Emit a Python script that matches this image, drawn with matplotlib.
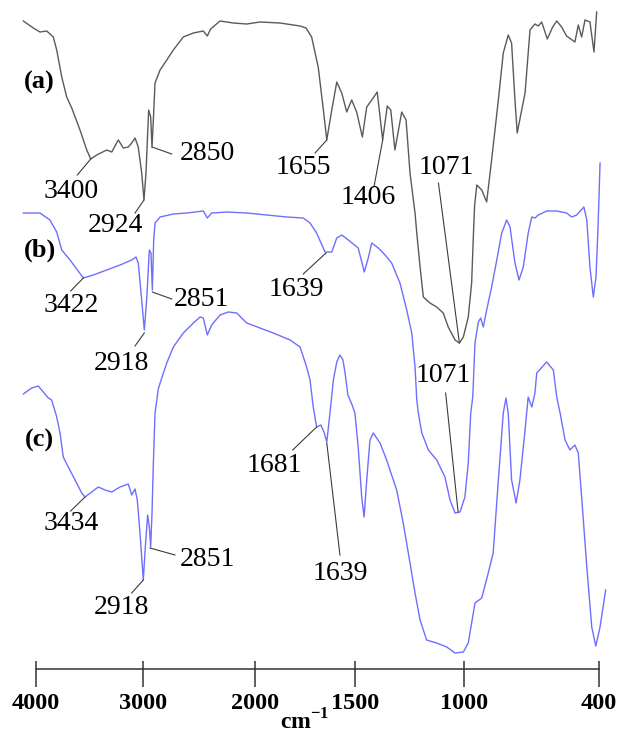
import numpy as np
import matplotlib
matplotlib.use("Agg")
import matplotlib.pyplot as plt

plt.rcParams['font.family'] = ['Liberation Serif', 'DejaVu Serif']
plt.rcParams['mathtext.fontset'] = 'custom'
plt.rcParams['mathtext.rm'] = 'Liberation Serif'
plt.rcParams['mathtext.bf'] = 'Liberation Serif:bold'

# ---------------- data (wavenumber cm-1, transmittance a.u.) ----------------
wn_a = [4118, 4025, 3963, 3900, 3839, 3807, 3760, 3714, 3667, 3590, 3527, 3490, 3434, 3341, 3294,
        3233, 3186, 3140, 3108, 3077, 3047, 3015, 2994, 2976, 2952, 2934, 2922, 2910, 2895, 2850,
        2790, 2731, 2642, 2552, 2463, 2427, 2397, 2313, 2194, 2074, 1975, 1875, 1774, 1744, 1716,
        1683, 1657, 1640, 1615, 1590, 1565, 1540, 1515, 1491, 1465, 1445, 1422, 1397, 1372, 1351,
        1335, 1316, 1285, 1265, 1247, 1224, 1216, 1201, 1186, 1156, 1125, 1095, 1072, 1041, 1021,
        1003, 981, 966, 959, 953, 943, 921, 899, 877, 847, 825, 803, 788, 773, 763,
        743, 728, 706, 684, 669, 654, 629, 605, 587, 565, 543, 506, 491, 476, 461,
        439, 421, 409]
t_a = [648, 641, 637, 638, 632, 619, 592, 572, 561, 539, 519, 510, 514, 519, 517,
       529, 521, 522, 526, 531, 522, 496, 469, 496, 559, 552, 522, 549, 586, 599,
       609, 619, 632, 636, 638, 633, 640, 648, 646, 645, 647, 646, 643, 641, 632,
       602, 559, 529, 559, 587, 576, 557, 569, 557, 532, 562, 569, 577, 529, 563,
       559, 519, 557, 549, 496, 456, 436, 402, 372, 366, 362, 356, 342, 329, 326,
       332, 352, 386, 429, 463, 484, 479, 467, 509, 569, 616, 634, 626, 569, 536,
       559, 576, 639, 645, 643, 647, 630, 642, 648, 642, 633, 627, 644, 632, 649,
       647, 617, 657]

wn_b = [4118, 3963, 3870, 3807, 3760, 3683, 3559, 3466, 3341, 3217, 3108, 3068, 3047, 3015, 2991,
        2970, 2946, 2931, 2919, 2907, 2895, 2850, 2731, 2611, 2463, 2427, 2388, 2253, 2074, 1941,
        1841, 1758, 1724, 1691, 1649, 1615, 1590, 1565, 1532, 1484, 1456, 1438, 1422, 1392, 1361,
        1331, 1293, 1262, 1239, 1224, 1216, 1209, 1193, 1163, 1125, 1087, 1064, 1041, 1018, 996,
        981, 970, 961, 951, 936, 926, 914, 899, 877, 854, 832, 810, 795, 773, 755,
        736, 714, 698, 684, 669, 632, 587, 543, 520, 498, 466, 453, 439, 424, 412,
        404, 399, 394]
t_b = [456, 456, 449, 437, 419, 409, 391, 394, 399, 404, 409, 412, 406, 369, 339,
       369, 419, 416, 379, 429, 446, 452, 455, 456, 458, 451, 456, 457, 456, 454,
       452, 451, 446, 436, 417, 417, 431, 434, 429, 421, 397, 411, 426, 421, 414,
       406, 386, 359, 336, 302, 269, 256, 236, 219, 209, 192, 169, 156, 157, 172,
       206, 256, 272, 326, 347, 351, 342, 359, 382, 409, 436, 449, 442, 406, 389,
       402, 436, 452, 451, 454, 458, 458, 456, 452, 454, 462, 449, 402, 372, 392,
       436, 469, 506]

wn_c = [4118, 4040, 3979, 3932, 3885, 3854, 3807, 3776, 3746, 3699, 3636, 3574, 3543, 3481, 3419,
        3357, 3294, 3217, 3140, 3108, 3077, 3056, 3031, 3000, 2982, 2961, 2946, 2934, 2922, 2910,
        2895, 2866, 2835, 2790, 2731, 2642, 2552, 2492, 2463, 2427, 2388, 2313, 2239, 2164, 2074,
        1975, 1908, 1824, 1774, 1741, 1724, 1708, 1691, 1670, 1654, 1640, 1624, 1607, 1590, 1574,
        1559, 1549, 1534, 1513, 1499, 1484, 1468, 1457, 1445, 1430, 1415, 1384, 1354, 1308, 1278,
        1247, 1224, 1201, 1171, 1125, 1079, 1041, 1003, 981, 951, 921, 892, 870, 847, 825,
        813, 803, 788, 768, 751, 728, 714, 698, 684, 676, 632, 602, 587, 572, 550,
        528, 506, 491, 476, 453, 431, 413, 394, 369]
t_c = [275, 281, 283, 277, 271, 269, 252, 236, 212, 202, 189, 176, 172, 177, 182,
       179, 177, 182, 185, 174, 180, 169, 136, 89, 122, 154, 142, 122, 156, 206,
       256, 280, 291, 306, 322, 336, 346, 352, 351, 334, 344, 354, 357, 356, 346,
       341, 336, 329, 322, 302, 289, 262, 242, 244, 237, 227, 256, 289, 307, 314,
       309, 297, 274, 264, 256, 222, 172, 152, 189, 229, 236, 226, 209, 179, 146,
       106, 76, 49, 29, 26, 22, 16, 17, 26, 66, 71, 96, 116, 189, 256,
       271, 256, 189, 166, 189, 239, 272, 262, 276, 296, 307, 299, 272, 256, 229,
       219, 224, 216, 172, 102, 42, 23, 42, 79]

TICK_WN = [4000, 3000, 2000, 1500, 1000, 400]
TICK_LABELS = ['4000', '3000', '2000', '1500', '1000', '400']
SCALE_POS = [0.0, 107.3, 219.0, 318.7, 428.0, 562.7]   # drawn spacing of the original broken axis

# peak labels: text, peak (x, y), leader end (x, y), text centre (x, y)
PEAK_LABELS = [
    ('3400', (3490, 510), (3615, 494), (3674, 478)),
    ('2924', (2994, 469), (3077, 456), (3264, 444)),
    ('2850', (2922, 522), (2746, 515), (2425, 516)),
    ('1655', (1640, 529), (1699, 516), (1758, 501)),
    ('1406', (1372, 529), (1412, 482), (1438, 472)),
    ('1071', (1021, 326), (1117, 486), (1079, 501)),
    ('3422', (3559, 391), (3677, 378), (3674, 363)),
    ('2918', (2991, 336), (3077, 323), (3201, 306)),
    ('2851', (2919, 377), (2746, 370), (2479, 370)),
    ('1639', (1644, 416), (1758, 395), (1791, 379)),
    ('1071', (1027, 157), (1084, 276), (1095, 294)),
    ('3434', (3543, 172), (3677, 158), (3674, 146)),
    ('2851', (2940, 121), (2716, 114), (2425, 110)),
    ('2918', (3000, 89), (3108, 76), (3201, 61)),
    ('1681', (1691, 242), (1811, 219), (1905, 204)),
    ('1639', (1640, 226), (1574, 114), (1574, 96)),
]
CURVE_TAGS = [('(a)', 3972, 587), ('(b)', 3963, 419), ('(c)', 3967, 229)]


# ---------------- broken wavenumber scale ----------------
_xp = np.array(TICK_WN[::-1], float)
_fp = np.array(SCALE_POS[::-1], float)


def _pos(w):
    w = np.atleast_1d(np.asarray(w, float))
    p = np.interp(w, _xp, _fp)
    lo = w < _xp[0]
    hi = w > _xp[-1]
    p[lo] = _fp[0] + (w[lo] - _xp[0]) * (_fp[1] - _fp[0]) / (_xp[1] - _xp[0])
    p[hi] = _fp[-1] + (w[hi] - _xp[-1]) * (_fp[-1] - _fp[-2]) / (_xp[-1] - _xp[-2])
    return p


def _wn(p):
    p = np.atleast_1d(np.asarray(p, float))
    xr, fr = _xp[::-1], _fp[::-1]   # fr increasing
    w = np.interp(p, fr, xr)
    lo = p < fr[0]
    hi = p > fr[-1]
    w[lo] = xr[0] + (p[lo] - fr[0]) * (xr[1] - xr[0]) / (fr[1] - fr[0])
    w[hi] = xr[-1] + (p[hi] - fr[-1]) * (xr[-1] - xr[-2]) / (fr[-1] - fr[-2])
    return w


def forward(w):
    return -_pos(w)


def inverse(v):
    return _wn(-np.asarray(v, float))


W, H = 618, 736
fig = plt.figure(figsize=(W / 100, H / 100), dpi=100)
x0_px, x1_px, axis_y_px = 20, 608, 669
ax = fig.add_axes([x0_px / W, (H - axis_y_px) / H, (x1_px - x0_px) / W, axis_y_px / H])
ax.set_xscale('function', functions=(forward, inverse))
ax.set_xlim(float(_wn(x0_px - 36)[0]), float(_wn(x1_px - 36)[0]))
ax.set_ylim(0, axis_y_px)

grey = '#5a5a5a'
blue = '#6e6eff'
ax.plot(wn_a, t_a, color=grey, lw=1.0)
ax.plot(wn_b, t_b, color=blue, lw=1.0)
ax.plot(wn_c, t_c, color=blue, lw=1.0)

for txt, (px, py), (lx, ly), (tx, ty) in PEAK_LABELS:
    ax.plot([px, lx], [py, ly], color='#3c3c3c', lw=0.8)
    ax.text(tx, ty, txt, fontsize=20, ha='center', va='center', color='black')

for txt, tx, ty in CURVE_TAGS:
    ax.text(tx, ty, txt, fontsize=19, fontweight='bold', ha='center', va='center')

for s in ['left', 'top', 'right']:
    ax.spines[s].set_visible(False)
ax.spines['bottom'].set_bounds(TICK_WN[0], TICK_WN[-1])
ax.spines['bottom'].set_color('#333333')
ax.spines['bottom'].set_linewidth(1.1)
ax.set_yticks([])
ax.set_xticks(TICK_WN)
ax.set_xticklabels(TICK_LABELS, fontweight='bold', fontsize=17.5)
ax.set_xticks(TICK_WN, minor=True)
ax.xaxis.remove_overlapping_locs = False
ax.tick_params(axis='x', which='major', direction='out', length=13, width=1.1,
               color='#333333', pad=4)
ax.tick_params(axis='x', which='minor', direction='in', length=5.5, width=1.1,
               color='#333333')

fig.text(305 / W, 1 - 722 / H, r'$\mathbf{cm}^{\mathbf{-1}}$', fontsize=17,
         ha='center', va='center')

fig.savefig('out.png', dpi=100)
